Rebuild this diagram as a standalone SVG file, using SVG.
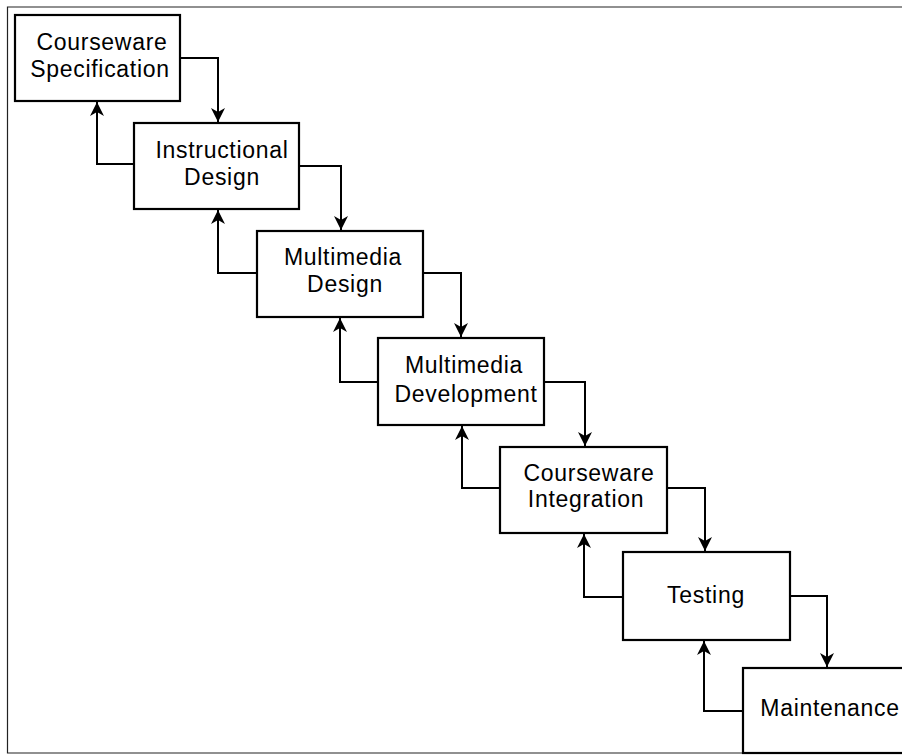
<svg xmlns="http://www.w3.org/2000/svg" width="902" height="756" viewBox="0 0 902 756">
<defs>
<style>
.box{fill:#fff;stroke:#000;stroke-width:2.2}
.lbl{font-family:"Liberation Sans",Arial,sans-serif;font-size:23px;letter-spacing:0.7px;fill:#000;text-anchor:middle}
.con{fill:none;stroke:#000;stroke-width:2}
.frame{fill:none;stroke:#222;stroke-width:1.2}
</style>
<marker id="ah" viewBox="0 0 14 14" refX="14" refY="7" markerWidth="14" markerHeight="14" markerUnits="userSpaceOnUse" orient="auto">
<path d="M0,0 L14,7 L0,14 L4,7 Z" fill="#000"/>
</marker>
</defs>
<rect width="902" height="756" fill="#fff"/>
<path class="frame" d="M903,7 H7.5 V753 H903"/>
<g id="connectors">
<path class="con" d="M180,58 H218 V122" marker-end="url(#ah)"/>
<path class="con" d="M134,164 H97 V102" marker-end="url(#ah)"/>
<path class="con" d="M299,166 H341 V230" marker-end="url(#ah)"/>
<path class="con" d="M257,273 H218 V210" marker-end="url(#ah)"/>
<path class="con" d="M423,273 H461 V337" marker-end="url(#ah)"/>
<path class="con" d="M378,382 H340 V318" marker-end="url(#ah)"/>
<path class="con" d="M544,382 H585 V446" marker-end="url(#ah)"/>
<path class="con" d="M500,488 H462 V426" marker-end="url(#ah)"/>
<path class="con" d="M667,488 H705 V551" marker-end="url(#ah)"/>
<path class="con" d="M623,597 H584 V534" marker-end="url(#ah)"/>
<path class="con" d="M790,596 H827 V667" marker-end="url(#ah)"/>
<path class="con" d="M743,711 H704 V641" marker-end="url(#ah)"/>
</g>
<g id="spec">
<rect class="box" x="15" y="15" width="165" height="86"/>
<text class="lbl" x="102" y="50">Courseware</text>
<text class="lbl" x="100" y="77">Specification</text>
</g>
<g id="instructional">
<rect class="box" x="134" y="123" width="165" height="86"/>
<text class="lbl" x="222" y="158">Instructional</text>
<text class="lbl" x="222" y="185">Design</text>
</g>
<g id="mmdesign">
<rect class="box" x="257" y="231" width="166" height="86"/>
<text class="lbl" x="343" y="265">Multimedia</text>
<text class="lbl" x="345" y="292">Design</text>
</g>
<g id="mmdev">
<rect class="box" x="378" y="338" width="166" height="87"/>
<text class="lbl" x="464" y="373">Multimedia</text>
<text class="lbl" x="466" y="402">Development</text>
</g>
<g id="integration">
<rect class="box" x="500" y="447" width="167" height="86"/>
<text class="lbl" x="589" y="481">Courseware</text>
<text class="lbl" x="586" y="507">Integration</text>
</g>
<g id="testing">
<rect class="box" x="623" y="552" width="167" height="88"/>
<text class="lbl" x="706" y="603">Testing</text>
</g>
<g id="maintenance">
<rect class="box" x="743" y="668" width="170" height="85"/>
<text class="lbl" x="830" y="716">Maintenance</text>
</g>
</svg>
